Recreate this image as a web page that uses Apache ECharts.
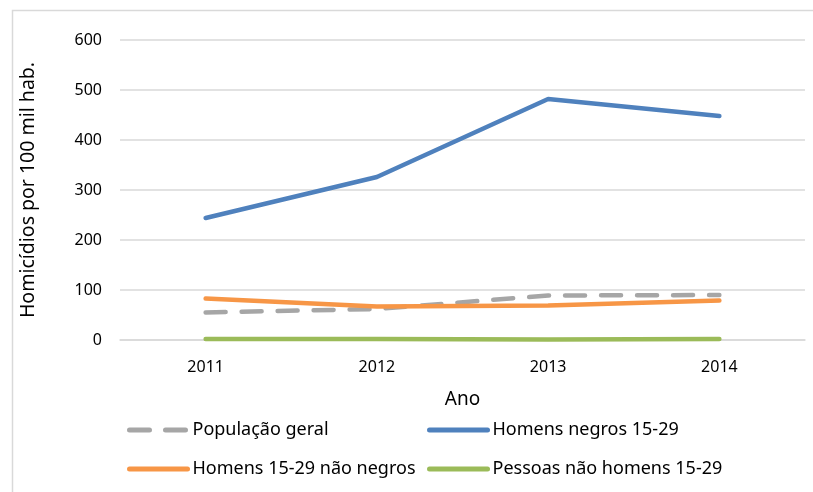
<!DOCTYPE html>
<html>
<head>
<meta charset="utf-8">
<script src="https://cdn.jsdelivr.net/npm/echarts@6/dist/echarts.min.js"></script>
<style>html,body{margin:0;padding:0;background:#fff}#c{width:813px;height:492px}</style>
</head>
<body>
<div id="c"></div>
<script>
const categories = ['2011', '2012', '2013', '2014'];
const populacaoGeral = [55, 62, 89, 90];
const homensNegros = [244, 326, 482, 448];
const homensNaoNegros = [83, 67, 69, 79];
const pessoasNaoHomens = [2, 2, 1, 2];
const yTicks = [0, 100, 200, 300, 400, 500, 600];

const FONT = 'Noto Sans';
const chart = echarts.init(document.getElementById('c'), null, {renderer: 'canvas'});
const mk = (name, data, color, dashed) => ({
  name, type: 'line', data, symbol: 'none', smooth: false,
  lineStyle: {color, width: 4.5, type: dashed ? [20, 16] : 'solid', cap: 'round'},
  itemStyle: {color},
  emphasis: {disabled: true}
});
const legendCommon = {
  orient: 'vertical', top: 416,
  itemWidth: 58, itemHeight: 14, itemGap: 21,
  textStyle: {fontSize: 18, color: '#000', fontFamily: FONT},
  itemStyle: {opacity: 0},
  lineStyle: {width: 5, cap: 'round'},
  selectedMode: false
};
chart.setOption({
  animation: false,
  textStyle: {fontFamily: FONT},
  graphic: [{
    type: 'rect', left: 10, top: 8,
    shape: {width: 820, height: 500},
    style: {fill: 'none', stroke: '#d9d9d9', lineWidth: 1.5},
    silent: true
  }],
  grid: {left: 120, right: 8, top: 40, bottom: 152},
  xAxis: {
    type: 'category', data: categories, boundaryGap: true,
    name: 'Ano', nameLocation: 'middle', nameGap: 50,
    nameTextStyle: {fontSize: 19, color: '#000', fontFamily: FONT},
    axisLine: {show: true, lineStyle: {color: '#d9d9d9', width: 1.5}},
    axisTick: {show: false},
    axisLabel: {fontSize: 16, color: '#000', margin: 19, fontFamily: FONT}
  },
  yAxis: {
    type: 'value', min: 0, max: 600, interval: 100,
    name: 'Homicídios por 100 mil hab.', nameLocation: 'middle', nameGap: 82,
    nameTextStyle: {fontSize: 19.5, color: '#000', fontFamily: FONT},
    axisLine: {show: false}, axisTick: {show: false},
    axisLabel: {fontSize: 16, color: '#000', margin: 18, fontFamily: FONT,
      formatter: v => yTicks.includes(v) ? String(v) : ''},
    splitLine: {lineStyle: {color: '#d9d9d9', width: 1.5}}
  },
  legend: [Object.assign({}, legendCommon, {
    left: 122,
    data: ['População geral', 'Homens 15-29 não negros']
  }), Object.assign({}, legendCommon, {
    left: 422,
    data: ['Homens negros 15-29', 'Pessoas não homens 15-29']
  })],
  series: [
    mk('População geral', populacaoGeral, '#a6a6a6', true),
    mk('Homens negros 15-29', homensNegros, '#4f81bd', false),
    mk('Homens 15-29 não negros', homensNaoNegros, '#f79646', false),
    mk('Pessoas não homens 15-29', pessoasNaoHomens, '#9bbb59', false)
  ]
});
</script>
</body>
</html>
